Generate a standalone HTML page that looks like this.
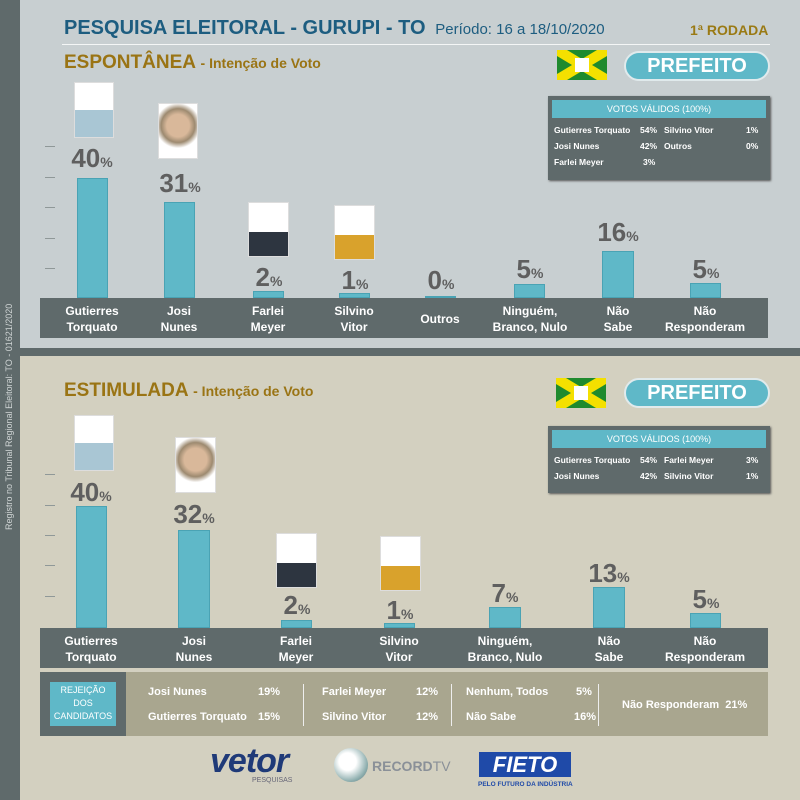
<!DOCTYPE html>
<html><head><meta charset="utf-8"><style>
*{margin:0;padding:0;box-sizing:border-box}
body{width:800px;height:800px;position:relative;overflow:hidden;font-family:"Liberation Sans Narrow","Liberation Sans",sans-serif;background:#d3d0c0}
.a{position:absolute}
.side{left:0;top:0;width:20px;height:800px;background:#5f6a6b}
.top{left:20px;top:0;width:780px;height:348px;background:#c8cfd1}
.sep{left:20px;top:348px;width:780px;height:8px;background:#5f6a6b}
.bar{background:#5fb8c8;box-shadow:inset 0 0 0 1px #4aa3b4}
.lbar{background:#5f6a6b;height:40px;left:40px;width:728px}
.lab{color:#fff;font-weight:bold;font-size:12px;text-align:center;line-height:16px;width:110px}
.val{color:#5f5f5f;font-weight:bold;font-size:26px;text-align:center;width:80px;line-height:26px}
.val small{font-size:14px}
.ph{background:#fff;border:1px solid #ddd}
.tick{left:45px;width:10px;height:1px;background:#8f9898}
.vv{background:#5f6a6b;color:#fff;font-size:10px;box-shadow:1px 1px 2px #555}
.vvh{background:#5fb8c8;margin:4px;height:18px;text-align:center;line-height:18px;font-size:9px}
.vv .a{font-size:8.5px;white-space:nowrap}
.pill{background:#5fb8c8;border-radius:15px;color:#fff;font-weight:bold;font-size:20px;text-align:center;border:2px solid #e0eaec;line-height:26px}
.flag{background:#1f8a2e;overflow:hidden}
.rj .a{white-space:nowrap}
</style></head><body>
<div class="a side"></div>
<div class="a" style="left:4px;top:530px;transform:rotate(-90deg);transform-origin:0 0;color:#cfd4d4;font-size:9px;white-space:nowrap">Registro no Tribunal Regional Eleitoral: TO - 01621/2020</div>
<div class="a top"></div>
<div class="a sep"></div>

<div class="a" style="left:64px;top:17px;color:#1d5d80;font-weight:bold;font-size:20px;white-space:nowrap">PESQUISA ELEITORAL - GURUPI - TO <span style="font-weight:normal;font-size:15px;color:#1d5d80">&nbsp;Período: 16 a 18/10/2020</span></div>
<div class="a" style="left:690px;top:22px;color:#9a7a14;font-weight:bold;font-size:14px">1ª RODADA</div>
<div class="a" style="left:62px;top:44px;width:708px;height:1px;background:#f4f6f6"></div>
<div class="a" style="left:64px;top:52px;color:#9a7414;font-weight:bold;font-size:19px;white-space:nowrap">ESPONTÂNEA <span style="font-size:14px">- Intenção de Voto</span></div>

<div class="a flag" style="left:557px;top:50px;width:50px;height:30px"><svg width="50" height="30"><polygon points="0,0 10,0 50,24 50,30 40,30 0,6" fill="#f4e000"/><polygon points="40,0 50,0 50,6 10,30 0,30 0,24" fill="#f4e000"/><rect x="18" y="8" width="14" height="14" fill="#fff"/></svg></div>
<div class="a pill" style="left:624px;top:51px;width:146px;height:30px">PREFEITO</div>
<div class="a flag" style="left:556px;top:378px;width:50px;height:30px"><svg width="50" height="30"><polygon points="0,0 10,0 50,24 50,30 40,30 0,6" fill="#f4e000"/><polygon points="40,0 50,0 50,6 10,30 0,30 0,24" fill="#f4e000"/><rect x="18" y="8" width="14" height="14" fill="#fff"/></svg></div>
<div class="a pill" style="left:624px;top:378px;width:146px;height:30px">PREFEITO</div>

<div class="a vv" style="left:548px;top:96px;width:222px;height:84px">
<div class="vvh">VOTOS VÁLIDOS (100%)</div>
<div style="position:relative;line-height:16px;font-weight:bold">
<div class="a" style="left:6px;top:0">Gutierres Torquato</div><div class="a" style="left:92px;top:0">54%</div>
<div class="a" style="left:6px;top:16px">Josi Nunes</div><div class="a" style="left:92px;top:16px">42%</div>
<div class="a" style="left:6px;top:32px">Farlei Meyer</div><div class="a" style="left:95px;top:32px">3%</div>
<div class="a" style="left:116px;top:0">Silvino Vitor</div><div class="a" style="left:198px;top:0">1%</div>
<div class="a" style="left:116px;top:16px">Outros</div><div class="a" style="left:198px;top:16px">0%</div>
</div></div>
<div class="a vv" style="left:548px;top:426px;width:222px;height:67px">
<div class="vvh">VOTOS VÁLIDOS (100%)</div>
<div style="position:relative;line-height:16px;font-weight:bold">
<div class="a" style="left:6px;top:0">Gutierres Torquato</div><div class="a" style="left:92px;top:0">54%</div>
<div class="a" style="left:6px;top:16px">Josi Nunes</div><div class="a" style="left:92px;top:16px">42%</div>
<div class="a" style="left:116px;top:0">Farlei Meyer</div><div class="a" style="left:198px;top:0">3%</div>
<div class="a" style="left:116px;top:16px">Silvino Vitor</div><div class="a" style="left:198px;top:16px">1%</div>
</div></div>

<div class="a tick" style="top:146px"></div><div class="a tick" style="top:177px"></div><div class="a tick" style="top:207px"></div><div class="a tick" style="top:238px"></div><div class="a tick" style="top:268px"></div>
<div class="a tick" style="top:474px"></div><div class="a tick" style="top:505px"></div><div class="a tick" style="top:535px"></div><div class="a tick" style="top:565px"></div><div class="a tick" style="top:596px"></div>

<div class="a ph" style="left:74px;top:82px;width:40px;height:56px;background:linear-gradient(#fff 50%,#a9c6d4 50%)"></div>
<div class="a ph" style="left:158px;top:103px;width:40px;height:56px;background:radial-gradient(circle at 50% 40%,#d9b89a 30%,#9d8a70 45%,#fff 60%)"></div>
<div class="a ph" style="left:248px;top:202px;width:41px;height:55px;background:linear-gradient(#fff 55%,#2d3540 55%)"></div>
<div class="a ph" style="left:334px;top:205px;width:41px;height:55px;background:linear-gradient(#fff 55%,#d9a22c 55%)"></div>

<div class="a bar" style="left:77px;top:178px;width:31px;height:120px"></div>
<div class="a bar" style="left:164px;top:202px;width:31px;height:96px"></div>
<div class="a bar" style="left:253px;top:291px;width:31px;height:7px"></div>
<div class="a bar" style="left:339px;top:293px;width:31px;height:5px"></div>
<div class="a bar" style="left:425px;top:296px;width:31px;height:2px"></div>
<div class="a bar" style="left:514px;top:284px;width:31px;height:14px"></div>
<div class="a bar" style="left:602px;top:251px;width:32px;height:47px"></div>
<div class="a bar" style="left:690px;top:283px;width:31px;height:15px"></div>

<div class="a val" style="left:52px;top:145px">40<small>%</small></div>
<div class="a val" style="left:140px;top:170px">31<small>%</small></div>
<div class="a val" style="left:229px;top:264px">2<small>%</small></div>
<div class="a val" style="left:315px;top:267px">1<small>%</small></div>
<div class="a val" style="left:401px;top:267px">0<small>%</small></div>
<div class="a val" style="left:490px;top:256px">5<small>%</small></div>
<div class="a val" style="left:578px;top:219px">16<small>%</small></div>
<div class="a val" style="left:666px;top:256px">5<small>%</small></div>

<div class="a lbar" style="top:298px"></div>
<div class="a lab" style="left:37px;top:303px">Gutierres<br>Torquato</div>
<div class="a lab" style="left:124px;top:303px">Josi<br>Nunes</div>
<div class="a lab" style="left:213px;top:303px">Farlei<br>Meyer</div>
<div class="a lab" style="left:299px;top:303px">Silvino<br>Vitor</div>
<div class="a lab" style="left:385px;top:311px">Outros</div>
<div class="a lab" style="left:475px;top:303px">Ninguém,<br>Branco, Nulo</div>
<div class="a lab" style="left:563px;top:303px">Não<br>Sabe</div>
<div class="a lab" style="left:650px;top:303px">Não<br>Responderam</div>

<div class="a" style="left:64px;top:380px;color:#9a7414;font-weight:bold;font-size:19px;white-space:nowrap">ESTIMULADA <span style="font-size:14px">- Intenção de Voto</span></div>

<div class="a ph" style="left:74px;top:415px;width:40px;height:56px;background:linear-gradient(#fff 50%,#a9c6d4 50%)"></div>
<div class="a ph" style="left:175px;top:437px;width:41px;height:56px;background:radial-gradient(circle at 50% 40%,#d9b89a 30%,#9d8a70 45%,#fff 60%)"></div>
<div class="a ph" style="left:276px;top:533px;width:41px;height:55px;background:linear-gradient(#fff 55%,#2d3540 55%)"></div>
<div class="a ph" style="left:380px;top:536px;width:41px;height:55px;background:linear-gradient(#fff 55%,#d9a22c 55%)"></div>

<div class="a bar" style="left:76px;top:506px;width:31px;height:122px"></div>
<div class="a bar" style="left:178px;top:530px;width:32px;height:98px"></div>
<div class="a bar" style="left:281px;top:620px;width:31px;height:8px"></div>
<div class="a bar" style="left:384px;top:623px;width:31px;height:5px"></div>
<div class="a bar" style="left:489px;top:607px;width:32px;height:21px"></div>
<div class="a bar" style="left:593px;top:587px;width:32px;height:41px"></div>
<div class="a bar" style="left:690px;top:613px;width:31px;height:15px"></div>

<div class="a val" style="left:51px;top:479px">40<small>%</small></div>
<div class="a val" style="left:154px;top:501px">32<small>%</small></div>
<div class="a val" style="left:257px;top:592px">2<small>%</small></div>
<div class="a val" style="left:360px;top:597px">1<small>%</small></div>
<div class="a val" style="left:465px;top:580px">7<small>%</small></div>
<div class="a val" style="left:569px;top:560px">13<small>%</small></div>
<div class="a val" style="left:666px;top:586px">5<small>%</small></div>

<div class="a lbar" style="top:628px"></div>
<div class="a lab" style="left:36px;top:633px">Gutierres<br>Torquato</div>
<div class="a lab" style="left:139px;top:633px">Josi<br>Nunes</div>
<div class="a lab" style="left:241px;top:633px">Farlei<br>Meyer</div>
<div class="a lab" style="left:344px;top:633px">Silvino<br>Vitor</div>
<div class="a lab" style="left:450px;top:633px">Ninguém,<br>Branco, Nulo</div>
<div class="a lab" style="left:554px;top:633px">Não<br>Sabe</div>
<div class="a lab" style="left:650px;top:633px">Não<br>Responderam</div>

<div class="a" style="left:40px;top:672px;width:728px;height:64px;background:#a9a68f"></div>
<div class="a" style="left:40px;top:672px;width:86px;height:64px;background:#5f6a6b"></div>
<div class="a" style="left:50px;top:682px;width:66px;height:44px;background:#5fb8c8;color:#fff;font-size:9px;text-align:center;line-height:13px;padding-top:2px">REJEIÇÃO<br>DOS<br>CANDIDATOS</div>
<div class="a rj" style="left:0;top:0;color:#fff;font-weight:bold;font-size:11px">
<div class="a" style="left:148px;top:686px">Josi Nunes</div><div class="a" style="left:258px;top:686px">19%</div>
<div class="a" style="left:148px;top:711px">Gutierres Torquato</div><div class="a" style="left:258px;top:711px">15%</div>
<div class="a" style="left:322px;top:686px">Farlei Meyer</div><div class="a" style="left:416px;top:686px">12%</div>
<div class="a" style="left:322px;top:711px">Silvino Vitor</div><div class="a" style="left:416px;top:711px">12%</div>
<div class="a" style="left:466px;top:686px">Nenhum, Todos</div><div class="a" style="left:576px;top:686px">5%</div>
<div class="a" style="left:466px;top:711px">Não Sabe</div><div class="a" style="left:574px;top:711px">16%</div>
<div class="a" style="left:622px;top:699px">Não Responderam&nbsp;&nbsp;21%</div>
</div>
<div class="a" style="left:303px;top:684px;width:1px;height:42px;background:#eee"></div>
<div class="a" style="left:451px;top:684px;width:1px;height:42px;background:#eee"></div>
<div class="a" style="left:598px;top:684px;width:1px;height:42px;background:#eee"></div>

<div class="a" style="left:210px;top:745px;color:#1f3a78;font-weight:bold;font-size:34px;font-style:italic;letter-spacing:-1px;line-height:32px">vetor</div>
<div class="a" style="left:252px;top:777px;color:#667;font-size:7px">PESQUISAS</div>
<div class="a" style="left:334px;top:748px;width:34px;height:34px;border-radius:50%;background:radial-gradient(circle at 40% 40%,#fff 30%,#8aa 70%,#667 100%)"></div>
<div class="a" style="left:372px;top:758px;color:#8a9098;font-weight:bold;font-size:14px">RECORD<span style="font-weight:normal">TV</span></div>
<div class="a" style="left:479px;top:752px;width:92px;height:25px;background:#1f4aa8;color:#fff;font-weight:bold;font-style:italic;font-size:22px;text-align:center;line-height:25px">FIETO</div>
<div class="a" style="left:478px;top:781px;color:#1f4aa8;font-weight:bold;font-size:6.5px;white-space:nowrap">PELO FUTURO DA INDÚSTRIA</div>
</body></html>
